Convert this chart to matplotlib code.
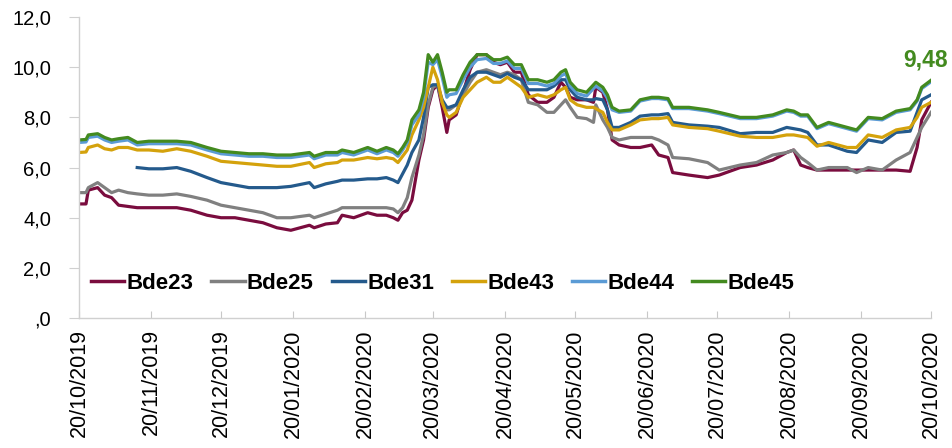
import matplotlib
matplotlib.use("Agg")
import matplotlib.pyplot as plt
import numpy as np
import pandas as pd

plt.rcParams['font.family'] = ['Liberation Sans', 'DejaVu Sans']

dates = ['2019-10-20', '2019-10-23', '2019-10-24', '2019-10-28', '2019-10-31', '2019-11-03', '2019-11-06',
         '2019-11-10', '2019-11-14', '2019-11-19', '2019-11-25', '2019-12-01', '2019-12-07',
         '2019-12-14', '2019-12-20', '2019-12-26', '2020-01-01', '2020-01-07', '2020-01-13',
         '2020-01-19', '2020-01-27', '2020-01-29', '2020-02-03', '2020-02-08', '2020-02-10',
         '2020-02-15', '2020-02-21', '2020-02-25', '2020-02-29', '2020-03-03', '2020-03-05',
         '2020-03-07', '2020-03-09', '2020-03-11', '2020-03-14', '2020-03-16', '2020-03-18',
         '2020-03-20', '2020-03-22', '2020-03-24', '2020-03-26', '2020-03-27', '2020-03-30',
         '2020-04-02', '2020-04-05', '2020-04-08', '2020-04-12', '2020-04-15', '2020-04-18',
         '2020-04-21', '2020-04-24', '2020-04-27', '2020-04-30', '2020-05-04', '2020-05-08',
         '2020-05-11', '2020-05-14', '2020-05-16', '2020-05-18', '2020-05-21', '2020-05-25',
         '2020-05-28', '2020-05-29', '2020-06-01', '2020-06-03', '2020-06-05', '2020-06-08',
         '2020-06-13', '2020-06-17', '2020-06-22', '2020-06-25', '2020-06-29', '2020-07-01',
         '2020-07-08', '2020-07-16', '2020-07-21', '2020-07-30', '2020-08-06', '2020-08-13',
         '2020-08-19', '2020-08-22', '2020-08-25', '2020-08-28', '2020-09-01', '2020-09-06',
         '2020-09-14', '2020-09-18', '2020-09-23', '2020-09-29', '2020-10-05', '2020-10-11',
         '2020-10-14', '2020-10-16', '2020-10-20']

bde23 = [4.55, 4.55, 5.1, 5.2, 4.9, 4.8, 4.5, 4.45, 4.4, 4.4, 4.4, 4.4, 4.3,
         4.1, 4.0, 4.0, 3.9, 3.8, 3.6, 3.5, 3.7, 3.6, 3.75, 3.8, 4.1,
         4.0, 4.2, 4.1, 4.1, 4.0, 3.9, 4.2, 4.3, 4.7, 6.3, 7.1, 8.4,
         9.1, 9.3, 8.4, 7.4, 7.9, 8.1, 9.0, 9.9, 10.5, 10.5, 10.2, 10.1,
         10.2, 9.8, 9.8, 8.9, 8.6, 8.6, 8.8, 9.4, 9.2, 8.8, 8.7, 8.7,
         8.6, 9.2, 9.0, 8.3, 7.1, 6.9, 6.8, 6.8, 6.9, 6.5, 6.4, 5.8,
         5.7, 5.6, 5.7, 6.0, 6.1, 6.3, 6.6, 6.7, 6.1, 6.0, 5.9, 5.9,
         5.9, 5.9, 5.9, 5.9, 5.9, 5.85, 6.8, 7.9, 8.6]

bde25 = [5.0, 5.0, 5.2, 5.4, 5.2, 5.0, 5.1, 5.0, 4.95, 4.9, 4.9, 4.95, 4.85,
         4.7, 4.5, 4.4, 4.3, 4.2, 4.0, 4.0, 4.1, 4.0, 4.15, 4.3, 4.4,
         4.4, 4.4, 4.4, 4.4, 4.35, 4.2, 4.4, 4.8, 5.6, 6.5, 7.3, 8.5,
         9.2, 9.3, 8.6, 8.3, 8.3, 8.5, 8.9, 9.4, 9.8, 9.9, 9.8, 9.7,
         9.8, 9.7, 9.5, 8.6, 8.5, 8.2, 8.2, 8.5, 8.7, 8.4, 8.0, 7.95,
         7.8, 8.5, 7.9, 7.6, 7.2, 7.1, 7.2, 7.2, 7.2, 7.1, 6.9, 6.4,
         6.35, 6.2, 5.9, 6.1, 6.2, 6.5, 6.6, 6.7, 6.4, 6.2, 5.9, 6.0,
         6.0, 5.8, 6.0, 5.9, 6.3, 6.6, 7.2, 7.6, 8.2]

bde31 = [None, None, None, None, None, None, None, None, 6.0, 5.95, 5.95, 6.0, 5.85,
         5.6, 5.4, 5.3, 5.2, 5.2, 5.2, 5.25, 5.4, 5.2, 5.35, 5.45, 5.5,
         5.5, 5.55, 5.55, 5.6, 5.5, 5.4, 5.75, 6.1, 6.6, 7.1, 8.0, 9.2,
         9.3, 9.3, 8.7, 8.4, 8.4, 8.5, 9.1, 9.6, 9.8, 9.8, 9.7, 9.6,
         9.75, 9.6, 9.5, 9.1, 9.1, 9.1, 9.25, 9.5, 9.5, 9.1, 8.8, 8.7,
         8.7, 8.75, 8.7, 8.3, 7.6, 7.6, 7.8, 8.05, 8.1, 8.1, 8.15, 7.8,
         7.7, 7.65, 7.6, 7.35, 7.4, 7.4, 7.6, 7.55, 7.5, 7.4, 6.9, 6.9,
         6.65, 6.6, 7.1, 7.0, 7.4, 7.45, 8.2, 8.7, 8.9]

bde43 = [6.6, 6.62, 6.8, 6.9, 6.75, 6.7, 6.8, 6.8, 6.7, 6.7, 6.65, 6.75, 6.65,
         6.45, 6.25, 6.2, 6.15, 6.1, 6.05, 6.05, 6.2, 6.0, 6.15, 6.2, 6.3,
         6.3, 6.4, 6.35, 6.4, 6.35, 6.2, 6.45, 6.7, 7.3, 7.9, 8.4, 9.2,
         10.0, 9.5, 8.6, 8.1, 8.0, 8.2, 8.8, 9.1, 9.4, 9.6, 9.4, 9.4,
         9.6, 9.4, 9.2, 8.8, 8.9, 8.8, 8.9, 9.1, 9.2, 8.7, 8.5, 8.4,
         8.4, 8.35, 8.2, 7.8, 7.5, 7.5, 7.7, 7.9, 7.95, 7.95, 8.0, 7.7,
         7.6, 7.55, 7.45, 7.25, 7.2, 7.2, 7.3, 7.3, 7.25, 7.2, 6.85, 7.0,
         6.8, 6.8, 7.3, 7.2, 7.5, 7.6, 8.0, 8.4, 8.6]

bde44 = [7.0, 7.02, 7.2, 7.25, 7.1, 7.0, 7.05, 7.1, 6.9, 6.95, 6.95, 6.95, 6.9,
         6.7, 6.55, 6.5, 6.45, 6.45, 6.4, 6.4, 6.5, 6.35, 6.5, 6.5, 6.6,
         6.5, 6.7, 6.55, 6.7, 6.6, 6.45, 6.7, 7.0, 7.7, 8.1, 8.8, 10.2,
         10.1, 10.3, 9.6, 8.8, 8.9, 8.95, 9.5, 10.0, 10.3, 10.35, 10.15, 10.15,
         10.25, 9.95, 9.95, 9.35, 9.35, 9.25, 9.35, 9.65, 9.75, 9.25, 8.95, 8.85,
         9.15, 9.25, 9.05, 8.75, 8.3, 8.2, 8.25, 8.65, 8.75, 8.75, 8.7, 8.35,
         8.35, 8.25, 8.15, 7.95, 7.95, 8.05, 8.25, 8.2, 8.05, 8.05, 7.55, 7.75,
         7.55, 7.45, 7.95, 7.9, 8.2, 8.3, 8.65, 9.15, 9.42]

bde45 = [7.1, 7.12, 7.3, 7.35, 7.2, 7.1, 7.15, 7.2, 7.0, 7.05, 7.05, 7.05, 7.0,
         6.8, 6.65, 6.6, 6.55, 6.55, 6.5, 6.5, 6.6, 6.45, 6.6, 6.6, 6.7,
         6.6, 6.8, 6.65, 6.8, 6.7, 6.55, 6.8, 7.1, 7.9, 8.3, 9.0, 10.5,
         10.2, 10.5, 9.8, 9.0, 9.1, 9.1, 9.7, 10.2, 10.5, 10.5, 10.3, 10.3,
         10.4, 10.1, 10.1, 9.5, 9.5, 9.4, 9.5, 9.8, 9.9, 9.4, 9.1, 9.0,
         9.3, 9.4, 9.2, 8.9, 8.4, 8.25, 8.3, 8.7, 8.8, 8.8, 8.75, 8.4,
         8.4, 8.3, 8.2, 8.0, 8.0, 8.1, 8.3, 8.25, 8.1, 8.1, 7.6, 7.8,
         7.6, 7.5, 8.0, 7.95, 8.25, 8.35, 8.7, 9.2, 9.48]

names = ['Bde23', 'Bde25', 'Bde31', 'Bde43', 'Bde44', 'Bde45']
colors = ['#7A0C3E', '#808080', '#245A8C', '#D4A20C', '#5B9BD5', '#438A1F']

tick_dates = ['2019-10-20', '2019-11-20', '2019-12-20', '2020-01-20', '2020-02-20',
              '2020-03-20', '2020-04-20', '2020-05-20', '2020-06-20', '2020-07-20',
              '2020-08-20', '2020-09-20', '2020-10-20']
yticks = [0, 2, 4, 6, 8, 10, 12]
ytick_labels = [',0', '2,0', '4,0', '6,0', '8,0', '10,0', '12,0']

x = pd.to_datetime(dates)
series = [bde23, bde25, bde31, bde43, bde44, bde45]

fig = plt.figure(figsize=(9.52, 4.48), dpi=100)
ax = fig.add_axes([0.083, 0.290, 0.895, 0.672])

for name, vals, c in zip(names, series, colors):
    v = np.array([np.nan if a is None else a for a in vals], dtype=float)
    ax.plot(x, v, color=c, lw=2.3, label=name, solid_joinstyle='round')

# last value label for Bde45
ax.annotate(f"{bde45[-1]:.2f}".replace('.', ','), xy=(x[-1], bde45[-1]),
            xytext=(-4, 10), textcoords='offset points', ha='center', va='baseline',
            fontsize=16.5, fontweight='bold', color=colors[-1], annotation_clip=False)

ax.set_ylim(0, 12)
ax.set_xlim(x[0], x[-1])
ax.set_yticks(yticks)
ax.set_yticklabels(ytick_labels, fontsize=14.5)
ticks = pd.to_datetime(tick_dates)
ax.set_xticks(ticks)
ax.set_xticklabels([t.strftime('%d/%m/%Y') for t in ticks], rotation=90, fontsize=15.5)

for s in ['top', 'right']:
    ax.spines[s].set_visible(False)
for s in ['left', 'bottom']:
    ax.spines[s].set_color('#D0D0D0')
    ax.spines[s].set_linewidth(1.0)
ax.tick_params(axis='x', direction='in', length=5, color='#C8C8C8', pad=8)
ax.tick_params(axis='y', direction='out', length=7, color='#D0D0D0', pad=13)

leg = ax.legend(loc='center', bbox_to_anchor=(0.427, 0.116), ncol=6, frameon=False,
                handlelength=1.5, handletextpad=0.1, columnspacing=0.8,
                prop={'weight': 'bold', 'size': 16})
for h in leg.get_lines():
    h.set_linewidth(2.5)

fig.savefig('out.png', dpi=100)
